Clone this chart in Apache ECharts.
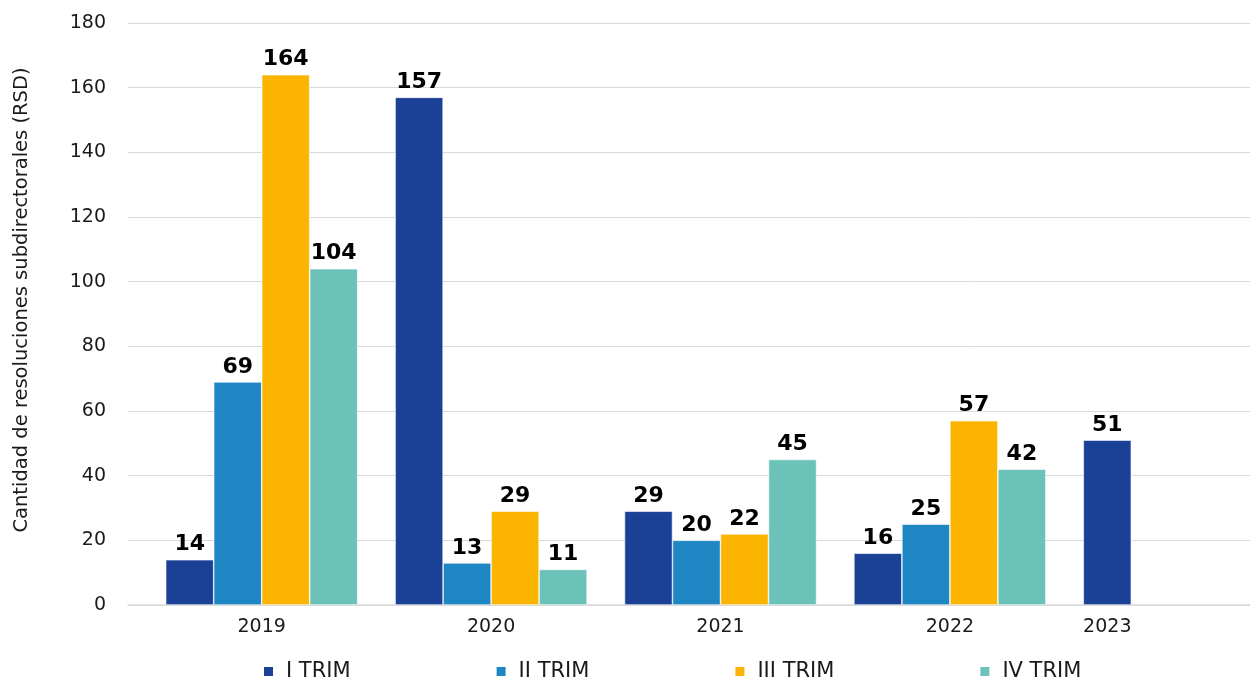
<!DOCTYPE html>
<html>
<head>
<meta charset="utf-8">
<script src="https://cdn.jsdelivr.net/npm/echarts@6/dist/echarts.min.js"></script>
<style>html,body{margin:0;padding:0;background:#fff}#c{width:1250px;height:681px}</style>
</head>
<body>
<div id="c"></div>
<script>
const categories = ['2019', '2020', '2021', '2022', '2023'];
const seriesNames = ['I TRIM', 'II TRIM', 'III TRIM', 'IV TRIM'];
const trim1 = [14, 157, 29, 16, 51];
const trim2 = [69, 13, 20, 25, null];
const trim3 = [164, 29, 22, 57, null];
const trim4 = [104, 11, 45, 42, null];
const colors = ['#1B4196', '#1E86C3', '#FBB500', '#6BC2B8'];
const yTitle = 'Cantidad de resoluciones subdirectorales (RSD)';

const FONT = 'DejaVu Sans';
const chart = echarts.init(document.getElementById('c'));
const values = [trim1, trim2, trim3, trim4];

const series = values.map((v, i) => ({
  name: seriesNames[i],
  type: 'bar',
  xAxisIndex: 1,
  yAxisIndex: 1,
  data: v,
  barWidth: 48,
  barGap: '0%',
  itemStyle: { color: colors[i], borderColor: '#ffffff', borderWidth: 0.6 },
  label: {
    show: true,
    position: 'top',
    distance: 4,
    color: '#000',
    fontFamily: FONT,
    fontWeight: 'bold',
    fontSize: 22
  }
}));

chart.setOption({
  animation: false,
  color: colors,
  grid: [
    { left: 128, right: 0, top: 23, bottom: 76, outerBoundsMode: 'none' },
    { left: 147, width: 1147, top: 23, bottom: 76, outerBoundsMode: 'none' }
  ],
  xAxis: [
    {
      gridIndex: 0, type: 'category', data: [''],
      axisLine: { show: true, lineStyle: { color: '#d9d9d9', width: 1.5 } },
      axisTick: { show: false }, axisLabel: { show: false }, splitLine: { show: false }
    },
    {
      gridIndex: 1, type: 'category',
      data: categories.map((c, i) => i === 4 ? { value: c, textStyle: { padding: [0, 144, 0, 0] } } : c),
      axisLine: { show: false }, axisTick: { show: false },
      axisLabel: { margin: 13, color: '#1a1a1a', fontFamily: FONT, fontSize: 19 }
    }
  ],
  yAxis: [
    {
      gridIndex: 0, type: 'value', min: 0, max: 180, interval: 20,
      name: yTitle, nameLocation: 'middle', nameGap: 96, nameRotate: 90,
      nameTextStyle: { color: '#1a1a1a', fontFamily: FONT, fontSize: 19.5, padding: [0, 0, 0, 28] },
      axisLine: { show: false }, axisTick: { show: false },
      axisLabel: { margin: 22, color: '#1a1a1a', fontFamily: FONT, fontSize: 19 },
      splitLine: { lineStyle: { color: '#d9d9d9', width: 1 } }
    },
    {
      gridIndex: 1, type: 'value', min: 0, max: 180, interval: 20, show: false,
      splitLine: { show: false }
    }
  ],
  legend: {
    data: seriesNames,
    left: 262, top: 661, padding: 0,
    icon: 'rect', itemWidth: 11, itemHeight: 11, itemGap: 144,
    textStyle: { color: '#1a1a1a', fontFamily: FONT, fontSize: 21, padding: [0, 0, 0, 7] }
  },
  series: series
});
</script>
</body>
</html>
